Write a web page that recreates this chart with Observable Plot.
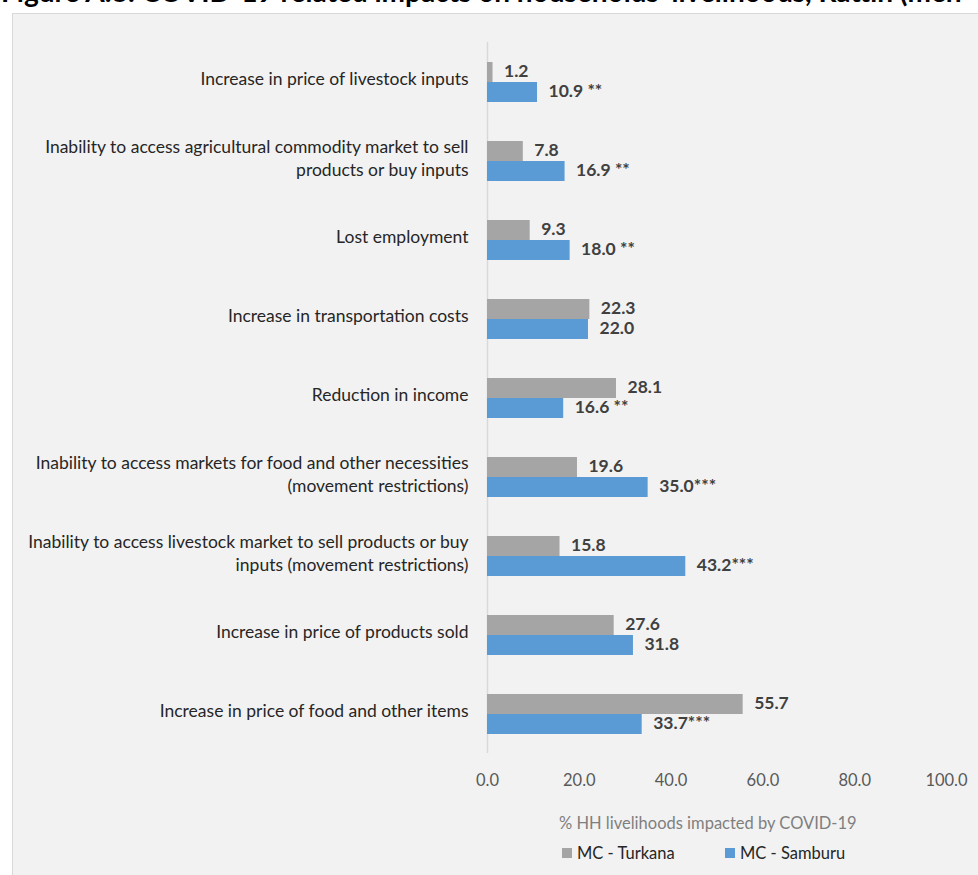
<!DOCTYPE html>
<html>
<head>
<meta charset="utf-8">
<script src="https://cdn.jsdelivr.net/npm/d3@7"></script>
<script src="https://cdn.jsdelivr.net/npm/@observablehq/plot@0.6"></script>
<style>
  html, body { margin: 0; padding: 0; background: #ffffff; }
  #page { position: relative; width: 978px; height: 875px; overflow: hidden; font-family: Lato, "Open Sans", sans-serif; }
  #title { position: absolute; left: 1px; top: -23px; white-space: nowrap; font-weight: bold; font-size: 28px; line-height: 28px; color: #000; }
  #box { position: absolute; left: 12px; top: 13px; width: 1000px; height: 900px; background: #f2f2f2; border: 1px solid #d9d9d9; }
  #chart { position: absolute; left: 0; top: 0; }
  #xtitle { position: absolute; left: 559px; top: 813px; font-size: 16.5px; color: #7f7f7f; white-space: nowrap; }
  #legend { position: absolute; left: 562px; top: 843px; font-size: 16.5px; color: #262626; white-space: nowrap; }
  .lg { position: absolute; top: 0; display: flex; align-items: center; }
  .sw { display: inline-block; width: 10px; height: 10px; margin-right: 5px; }
</style>
</head>
<body>
<div id="page">
  <div id="title">Figure A.8: COVID-19 related impacts on households' livelihoods, Rattin (men</div>
  <div id="box"></div>
  <div id="chart"></div>
  <div id="xtitle">% HH livelihoods impacted by COVID-19</div>
  <div id="legend"></div>
</div>
<script>
// ---- data ----
const categories = [
  "Increase in price of livestock inputs",
  "Inability to access agricultural commodity market to sell\nproducts or buy inputs",
  "Lost employment",
  "Increase in transportation costs",
  "Reduction in income",
  "Inability to access markets for food and other necessities\n(movement restrictions)",
  "Inability to access livestock market to sell products or buy\ninputs (movement restrictions)",
  "Increase in price of products sold",
  "Increase in price of food and other items"
];
const seriesNames = ["MC - Turkana", "MC - Samburu"];
const turkana = [1.2, 7.8, 9.3, 22.3, 28.1, 19.6, 15.8, 27.6, 55.7];
const samburu = [10.9, 16.9, 18.0, 22.0, 16.6, 35.0, 43.2, 31.8, 33.7];
const samburuSig = [" **", " **", " **", "", " **", "***", "***", "", "***"];
const xTicks = [0, 20, 40, 60, 80, 100];
const colors = ["#a5a5a5", "#5b9bd5"];

// ---- table ----
const rows = [];
categories.forEach((c, i) => {
  rows.push({category: c, series: seriesNames[0], value: turkana[i], label: turkana[i].toFixed(1)});
  rows.push({category: c, series: seriesNames[1], value: samburu[i], label: samburu[i].toFixed(1) + samburuSig[i]});
});

const chart = Plot.plot({
  width: 978,
  height: 804,
  marginLeft: 487,
  marginRight: 32,
  marginTop: 40,
  marginBottom: 50,
  style: {fontFamily: "Lato, 'Open Sans', sans-serif", fontSize: "15px", background: "transparent", overflow: "visible"},
  x: {domain: [0, 100], ticks: xTicks},
  y: {domain: seriesNames, paddingInner: 0, paddingOuter: 0.89, axis: null},
  fy: {domain: categories, padding: 0},
  color: {domain: seriesNames, range: colors},
  marks: [
    Plot.ruleX([0], {stroke: "#d9d9d9", strokeWidth: 1.5}),
    Plot.barX(rows, {x: "value", y: "series", fy: "category", fill: "series"}),
    Plot.text(rows, {x: "value", y: "series", fy: "category", text: "label", textAnchor: "start", dx: 11, dy: -1, fontWeight: "bold", fill: "#404040", fontSize: 17.5}),
    Plot.axisFy({anchor: "left", tickSize: 0, tickPadding: 19, dy: -4, fontSize: 17.5, lineHeight: 1.31, fill: "#262626", label: null}),
    Plot.axisX({tickSize: 0, tickPadding: 21, fontSize: 16.5, fill: "#595959", label: null, tickFormat: d => d.toFixed(1)})
  ]
});
document.getElementById("chart").appendChild(chart);

// legend
const legend = document.getElementById("legend");
const legendX = [0, 163];
seriesNames.forEach((s, i) => {
  const item = document.createElement("div");
  item.className = "lg";
  item.style.left = legendX[i] + "px";
  item.innerHTML = `<span class="sw" style="background:${colors[i]}"></span>${s}`;
  legend.appendChild(item);
});
</script>
</body>
</html>
